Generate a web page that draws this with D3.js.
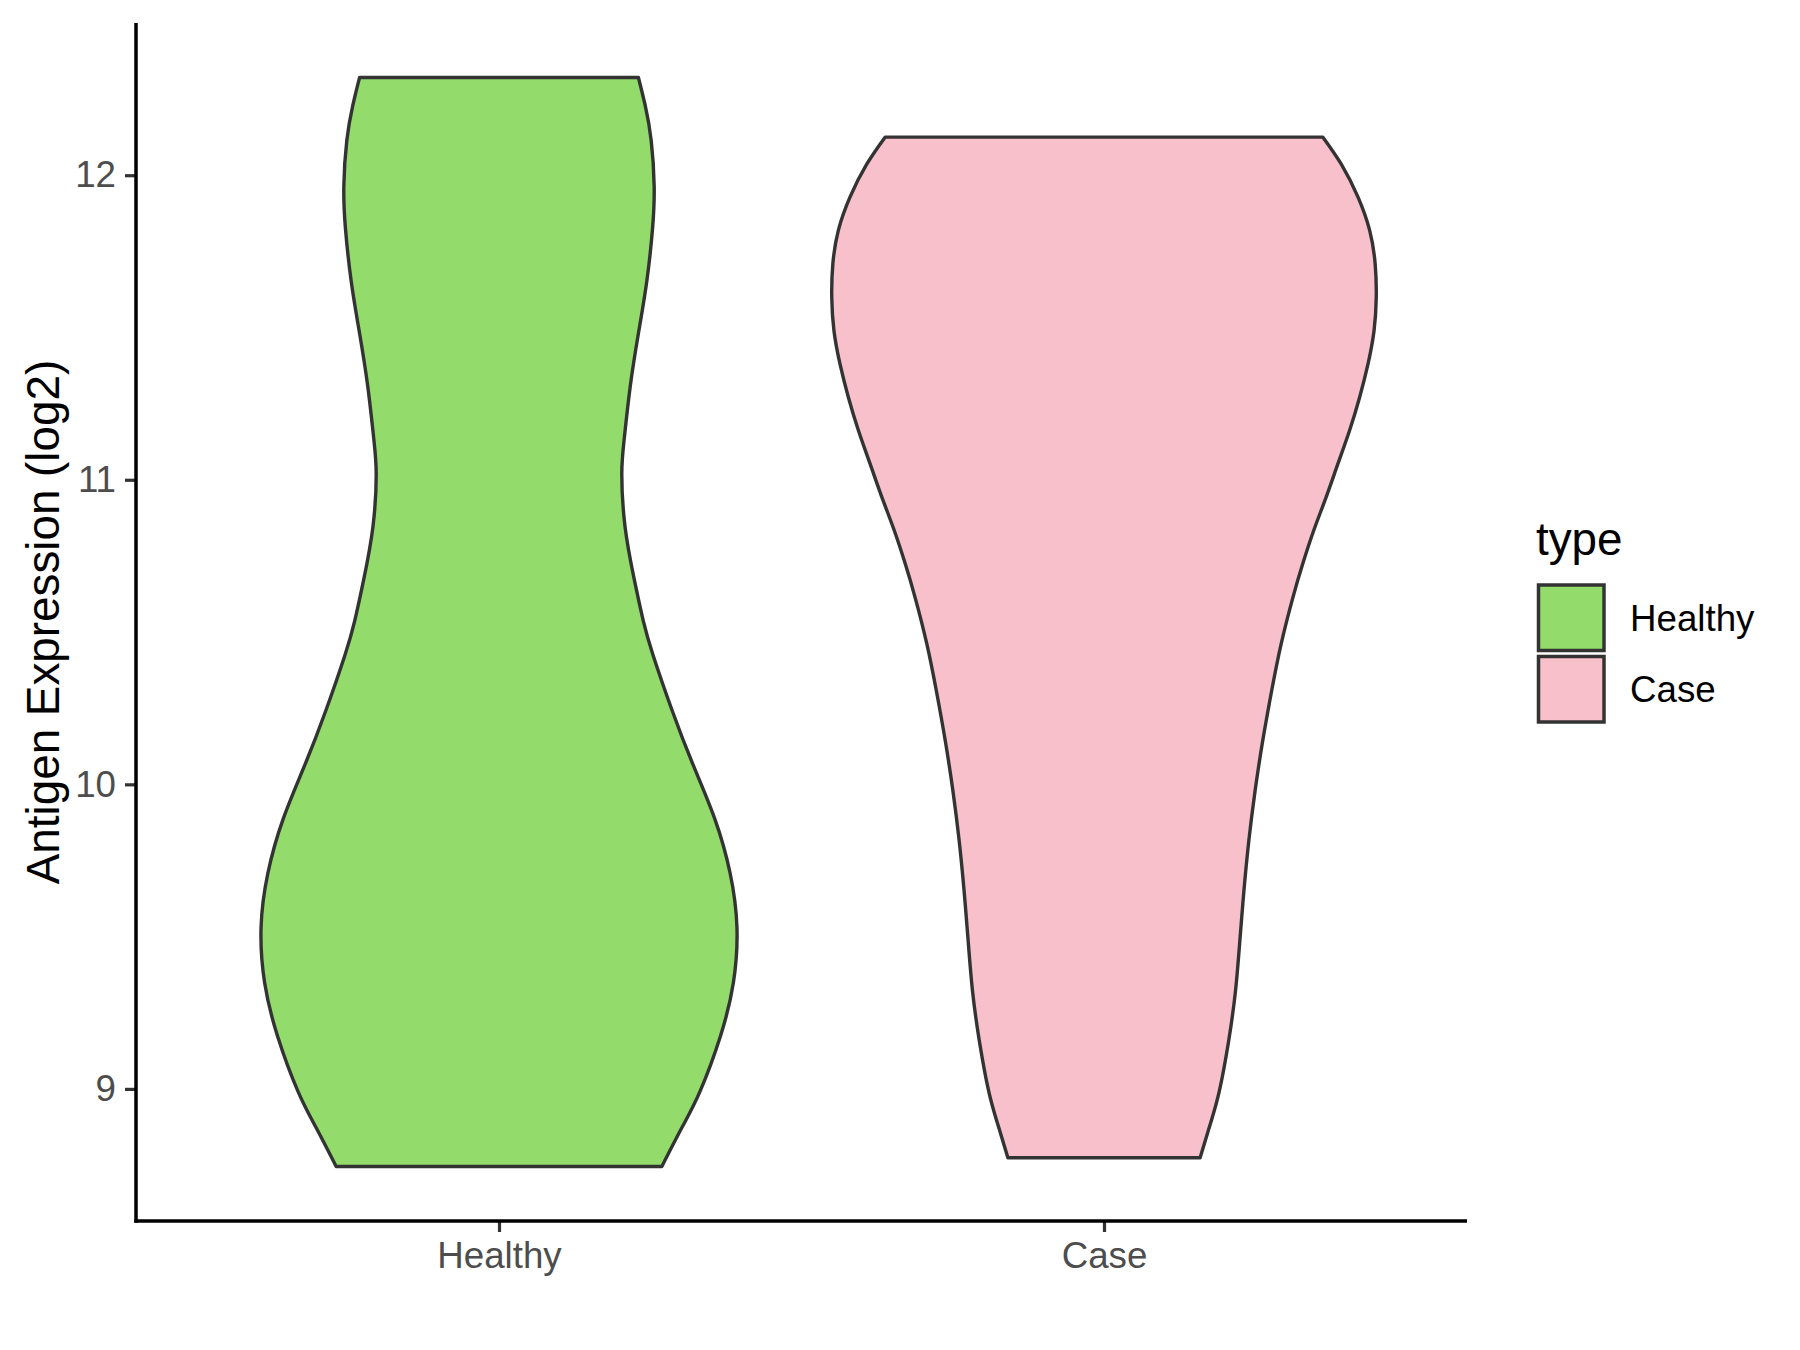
<!DOCTYPE html>
<html>
<head>
<meta charset="utf-8">
<script src="https://cdn.jsdelivr.net/npm/d3@7"></script>
<style>
  html, body { margin: 0; padding: 0; background: #ffffff; }
  svg { display: block; }
  text { font-family: "Liberation Sans", Arial, Helvetica, sans-serif; }
</style>
</head>
<body>
<svg id="chart" width="1800" height="1350"></svg>
<script>
// ---------------- data ----------------
const categories = ["Healthy", "Case"];
const fillColors = ["#93DC6B", "#F8C0CB"];
const yTicks = [9, 10, 11, 12];

// Healthy violin outline: expression values and relative density (half-width)
const healthyY = [8.745, 8.873, 8.991, 9.172, 9.349, 9.530, 9.708, 9.888, 10.066, 10.245,
                  10.424, 10.537, 10.672, 10.846, 11.018, 11.135, 11.306, 11.480, 11.653,
                  11.825, 11.963, 12.114, 12.229, 12.321];
const healthyDensity = [0.598, 0.672, 0.738, 0.813, 0.861, 0.874, 0.849, 0.792, 0.712, 0.635,
                        0.566, 0.530, 0.497, 0.463, 0.451, 0.460, 0.482, 0.512, 0.543,
                        0.564, 0.570, 0.559, 0.537, 0.512];

// Case violin outline
const caseY = [8.774, 8.886, 8.994, 9.158, 9.322, 9.487, 9.651, 9.815, 9.979, 10.143,
               10.308, 10.462, 10.614, 10.724, 10.835, 10.943, 11.052, 11.162, 11.271,
               11.381, 11.490, 11.599, 11.709, 11.818, 11.928, 12.037, 12.125];
const caseDensity = [0.353, 0.391, 0.424, 0.458, 0.483, 0.499, 0.514, 0.532, 0.555, 0.583,
                     0.616, 0.651, 0.694, 0.730, 0.771, 0.816, 0.859, 0.902, 0.939,
                     0.970, 0.992, 1.000, 0.996, 0.976, 0.933, 0.871, 0.804];

const violins = [
  { cat: "Healthy", ys: healthyY, dens: healthyDensity },
  { cat: "Case", ys: caseY, dens: caseDensity }
];

// ---------------- layout ----------------
const panel = { left: 136, right: 1467, top: 23, bottom: 1221 };
const svg = d3.select("#chart");

const allY = healthyY.concat(caseY);
const yMin = d3.min(allY), yMax = d3.max(allY);
const pad = (yMax - yMin) * 0.05;
const y = d3.scaleLinear().domain([yMin - pad, yMax + pad]).range([panel.bottom, panel.top]);

const x = d3.scalePoint().domain(categories).range([panel.left, panel.right]).padding(0.6);
const w = d3.scaleLinear().domain([0, 1]).range([0, 0.45 * x.step()]);
const color = d3.scaleOrdinal().domain(categories).range(fillColors);

// ---------------- violins ----------------
violins.forEach(v => {
  const pts = v.ys.map((yy, i) => ({ y: yy, d: v.dens[i] }));
  const cx = x(v.cat);
  const area = d3.area()
    .y(d => y(d.y))
    .x0(d => cx - w(d.d))
    .x1(d => cx + w(d.d))
    .curve(d3.curveNatural);
  svg.append("path")
    .attr("d", area(pts))
    .attr("fill", color(v.cat))
    .attr("stroke", "#333333")
    .attr("stroke-width", 3.4)
    .attr("stroke-linejoin", "round");
});

// ---------------- axes ----------------
const yAxis = d3.axisLeft(y).tickValues(yTicks).tickSize(11).tickPadding(9).tickFormat(d3.format("d"));
const gy = svg.append("g").attr("transform", `translate(${panel.left},0)`).call(yAxis);
gy.select(".domain").remove();
gy.selectAll(".tick line").attr("stroke", "#333333").attr("stroke-width", 3.2);
gy.selectAll(".tick text").attr("fill", "#4D4D4D").attr("font-size", 36.7)
  .attr("font-family", "Liberation Sans, Arial, sans-serif");

const xAxis = d3.axisBottom(x).tickSize(11).tickPadding(10);
const gx = svg.append("g").attr("transform", `translate(0,${panel.bottom})`).call(xAxis);
gx.select(".domain").remove();
gx.selectAll(".tick line").attr("stroke", "#333333").attr("stroke-width", 3.2);
gx.selectAll(".tick text").attr("fill", "#4D4D4D").attr("font-size", 36.7)
  .attr("font-family", "Liberation Sans, Arial, sans-serif");

// axis lines
svg.append("line")
  .attr("x1", panel.left).attr("x2", panel.left)
  .attr("y1", panel.top).attr("y2", panel.bottom + 1.7)
  .attr("stroke", "#000").attr("stroke-width", 3.5);
svg.append("line")
  .attr("x1", panel.left - 1.7).attr("x2", panel.right)
  .attr("y1", panel.bottom).attr("y2", panel.bottom)
  .attr("stroke", "#000").attr("stroke-width", 3.5);

// y-axis title
svg.append("text")
  .attr("transform", `translate(59,${(panel.top + panel.bottom) / 2}) rotate(-90)`)
  .attr("text-anchor", "middle")
  .attr("font-size", 45.8)
  .attr("fill", "#000")
  .text("Antigen Expression (log2)");

// ---------------- legend ----------------
const legend = svg.append("g");
legend.append("text")
  .attr("x", 1536).attr("y", 555)
  .attr("font-size", 45.8).attr("fill", "#000")
  .text("type");

categories.forEach((c, i) => {
  const ky = 585 + i * 71.5;
  legend.append("rect")
    .attr("x", 1538.5).attr("y", ky)
    .attr("width", 65.5).attr("height", 65.5)
    .attr("fill", color(c))
    .attr("stroke", "#333333").attr("stroke-width", 3.5);
  legend.append("text")
    .attr("x", 1630).attr("y", ky + 45.5)
    .attr("font-size", 36.7).attr("fill", "#000")
    .text(c);
});
</script>
</body>
</html>
